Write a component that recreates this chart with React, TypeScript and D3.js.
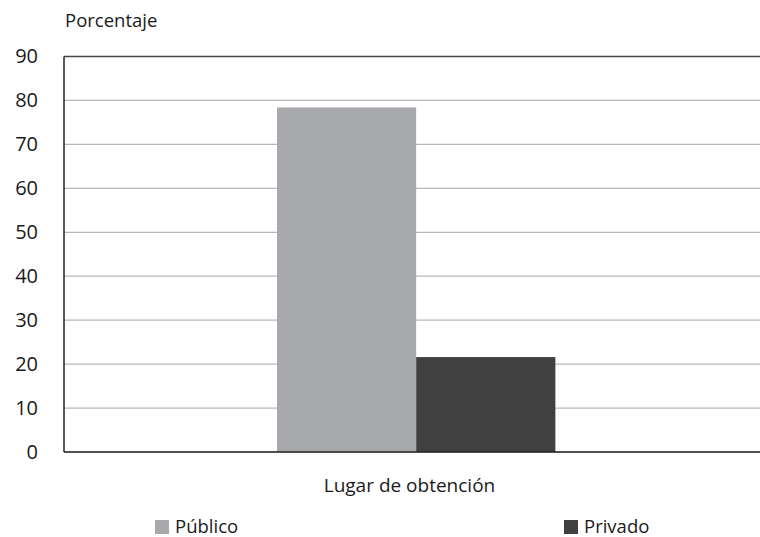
import { scaleBand, scaleLinear } from 'd3';
import React from 'react';

const categories = ['Lugar de obtención'];
const seriesNames = ['Público', 'Privado'];
const seriesValues = [78.4, 21.6];
const yTicks = [0, 10, 20, 30, 40, 50, 60, 70, 80, 90];
const colors = ['#a8a9ac', '#404040'];

const W = 760;
const H = 537;
const margin = { top: 56.5, right: 0, bottom: 85, left: 64 };
const font = '"Open Sans", sans-serif';

const App: React.FC = () => {
  const innerBottom = H - margin.bottom;

  // Scales
  const yScale = scaleLinear().domain([0, 90]).range([innerBottom, margin.top]);
  const x0 = scaleBand<string>()
    .domain(categories)
    .range([margin.left, W - margin.right])
    .paddingInner(0)
    .paddingOuter(0.75)
    .align(0.51);
  const x1 = scaleBand<string>()
    .domain(seriesNames)
    .range([0, x0.bandwidth()]);

  const legendX = [155, 564];

  return (
    <svg
      width={W}
      height={H}
      style={{ position: 'absolute', left: 0, top: 0, fontFamily: font }}
    >
      <rect width={W} height={H} fill="#fff" />
      <text x={65} y={27} fontSize={18.5} fill="#1a1a1a">
        Porcentaje
      </text>

      {/* gridlines */}
      {yTicks.map((t) => (
        <line
          key={t}
          x1={margin.left}
          x2={W}
          y1={yScale(t)}
          y2={yScale(t)}
          stroke={t === 90 ? '#444' : '#b8b8b8'}
          strokeWidth={t === 90 ? 1.5 : 1.2}
        />
      ))}
      {yTicks.map((t) => (
        <text
          key={'l' + t}
          x={38}
          y={yScale(t) + 6.5}
          textAnchor="end"
          fontSize={20}
          fill="#1a1a1a"
        >
          {t}
        </text>
      ))}

      {/* bars */}
      {categories.map((c) =>
        seriesNames.map((s, i) => (
          <rect
            key={c + s}
            x={(x0(c) ?? 0) + (x1(s) ?? 0)}
            y={yScale(seriesValues[i])}
            width={x1.bandwidth()}
            height={innerBottom - yScale(seriesValues[i])}
            fill={colors[i]}
          />
        )),
      )}

      {/* axes */}
      <line
        x1={margin.left}
        x2={margin.left}
        y1={margin.top}
        y2={innerBottom}
        stroke="#222"
        strokeWidth={1.5}
      />
      <line
        x1={margin.left}
        x2={W}
        y1={innerBottom}
        y2={innerBottom}
        stroke="#222"
        strokeWidth={1.5}
      />

      {categories.map((c) => (
        <text
          key={'c' + c}
          x={409.5}
          y={492}
          textAnchor="middle"
          fontSize={19}
          fill="#1a1a1a"
        >
          {c}
        </text>
      ))}

      {/* legend */}
      {seriesNames.map((s, i) => (
        <g key={'lg' + s} transform={`translate(${legendX[i]}, 519)`}>
          <rect y={1} width={14} height={14} fill={colors[i]} />
          <text x={20} y={13.5} fontSize={18.5} fill="#1a1a1a">
            {s}
          </text>
        </g>
      ))}
    </svg>
  );
};

export default App;
